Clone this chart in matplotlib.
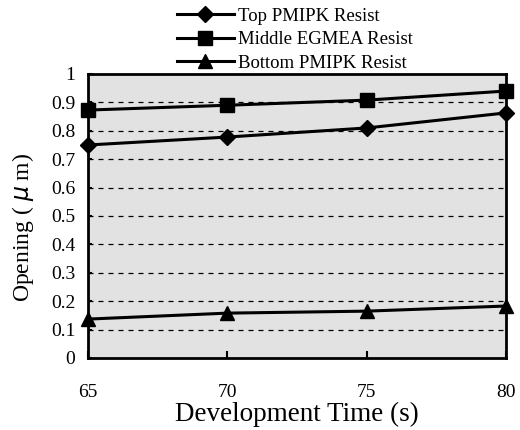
import matplotlib
matplotlib.use("Agg")
import matplotlib.pyplot as plt

time_s = [65, 70, 75, 80]
top_pmipk = [0.75, 0.778, 0.81, 0.863]
middle_egmea = [0.873, 0.89, 0.908, 0.94]
bottom_pmipk = [0.137, 0.158, 0.165, 0.183]
labels = ["Top PMIPK Resist", "Middle EGMEA Resist", "Bottom PMIPK Resist"]
yticks = [0, 0.1, 0.2, 0.3, 0.4, 0.5, 0.6, 0.7, 0.8, 0.9, 1]
ytick_labels = ["0", "0.1", "0.2", "0.3", "0.4", "0.5", "0.6", "0.7", "0.8", "0.9", "1"]

plt.rcParams['font.family'] = ['Liberation Serif', 'DejaVu Serif']

fig = plt.figure(figsize=(5.2, 4.3), dpi=100)
ax = fig.add_axes([88/520, 1 - 358/430, (506-88)/520, (358-74)/430])
ax.set_facecolor('#e2e2e2')

for yv in yticks[1:-1]:
    ax.axhline(yv, color='black', linestyle=(0, (4, 4)), linewidth=0.9, zorder=1)

l1, = ax.plot(time_s, top_pmipk, color='black', lw=2.2, marker='D', ms=8, clip_on=False, zorder=3)
l2, = ax.plot(time_s, middle_egmea, color='black', lw=2.2, marker='s', ms=10, clip_on=False, zorder=3)
l3, = ax.plot(time_s, bottom_pmipk, color='black', lw=2.2, marker='^', ms=10, clip_on=False, zorder=3)

ax.set_xlim(65, 80)
ax.set_ylim(0, 1)
ax.set_xticks(time_s)
ax.set_xticklabels([str(t) for t in time_s])
ax.set_yticks(yticks)
ax.set_yticklabels(ytick_labels)
ax.tick_params(axis='x', direction='in', length=5, width=1.5, pad=19, labelsize=14)
ax.tick_params(axis='y', direction='in', length=3, width=1.5, pad=9, labelsize=14)
for s in ax.spines.values():
    s.set_linewidth(2)

ax.set_xlabel("Development Time (s)", fontsize=19.5, labelpad=0)
ax.set_ylabel("Opening ( $\\mu$ m)", fontsize=17)
ax.yaxis.set_label_coords(-0.125, 0.46)

fig.legend([l1, l2, l3], labels, loc='upper left', bbox_to_anchor=(166/520, 1.008),
           frameon=False, fontsize=13.5, handlelength=3.0, handletextpad=0.25,
           labelspacing=0.34, borderpad=0.1)

fig.savefig("out.png", dpi=100)
